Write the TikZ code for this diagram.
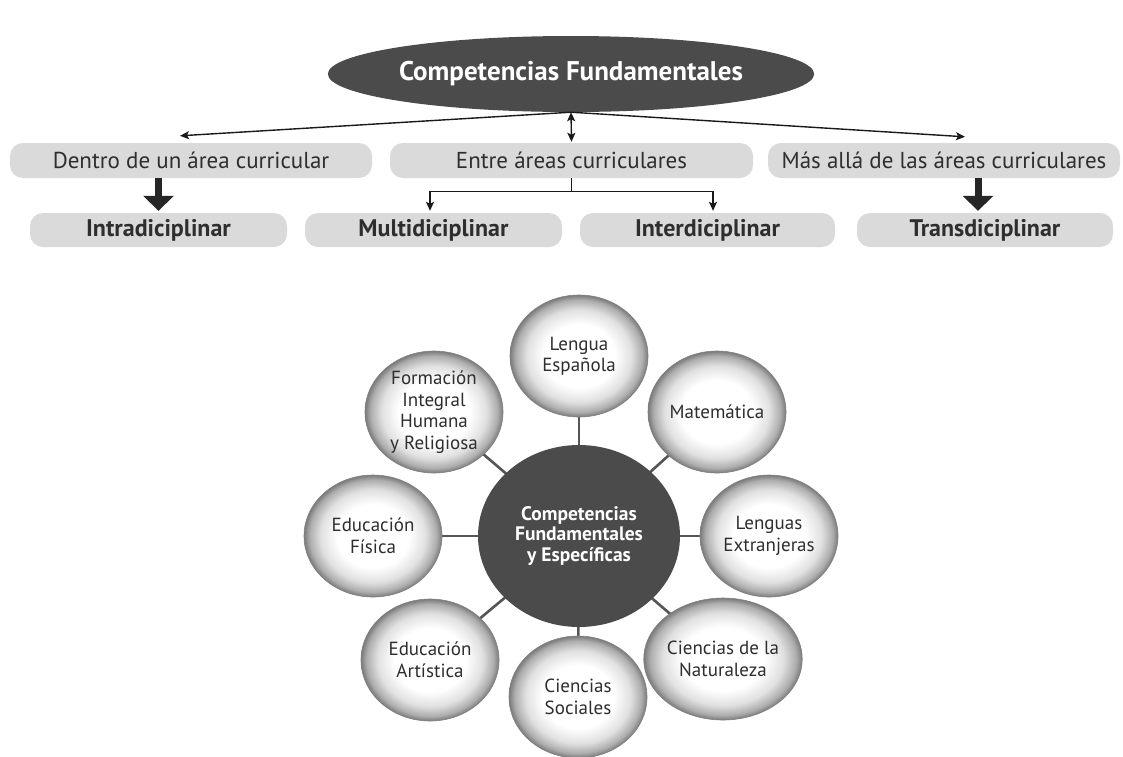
\documentclass[tikz,border=0pt]{standalone}
\usepackage{fontspec}
\setmainfont{PT Sans}
\usetikzlibrary{shapes.geometric,arrows.meta,backgrounds}

\definecolor{darkfill}{HTML}{4B4B4B}
\definecolor{boxgray}{HTML}{DADADA}
\definecolor{inktext}{HTML}{2E2E2E}
\definecolor{spokegray}{HTML}{555555}

% soft sphere look for the subject bubbles (rim of the shape at 25bp)
\pgfdeclareradialshading{sphere}{\pgfpoint{0bp}{0bp}}{%
  color(0bp)=(white); color(13bp)=(white); color(19bp)=(black!12);
  color(23bp)=(black!32); color(25bp)=(black!52); color(50bp)=(black!52)}

\tikzset{
  hub/.style={ellipse, fill=darkfill, text=white, font=\bfseries, align=center, inner sep=0pt},
  tagbox/.style={rectangle, rounded corners=13pt, fill=boxgray, text=inktext, inner sep=0pt, minimum height=35pt},
  levelbox/.style={tagbox, font=\fontsize{24}{28}\selectfont\bfseries, minimum height=34pt},
  areabox/.style={tagbox, font=\fontsize{23}{27}\selectfont},
  bubble/.style={ellipse, shading=sphere, draw=black!50, line width=0.6pt, text=inktext,
    minimum width=138pt, minimum height=122pt, inner sep=0pt, align=center,
    font=\fontsize{19}{21.5}\selectfont},
  link/.style={draw=black!90, line width=1.4pt, -{Stealth[length=9pt,width=8pt,inset=2pt]}},
  fatarrow/.style={draw=black!85, line width=7pt, -{Triangle[length=15pt,width=30pt]}},
  spoke/.style={draw=spokegray, line width=2.6pt}
}

\begin{document}
\begin{tikzpicture}[x=1pt,y=-1pt]
\useasboundingbox (0,0) rectangle (1123,756);
\begin{scope}[on background layer]
  \fill[white] (0,0) rectangle (1123,756);
\end{scope}

% ---------- upper scheme ----------
\node[hub, minimum width=448pt, minimum height=76pt, font=\fontsize{27}{32}\selectfont\bfseries]
  (top) at (571,74) {Competencias Fundamentales};

\node[areabox, minimum width=362pt] (dentro) at (191,160.5) {Dentro de un área curricular};
\node[areabox, minimum width=363pt] (entre)  at (571.5,160.5) {Entre áreas curriculares};
\node[areabox, minimum width=352pt] (mas)    at (944,160.5) {Más allá de las áreas curriculares};

\node[levelbox, minimum width=257pt] (intra) at (158.5,230) {Intradiciplinar};
\node[levelbox, minimum width=257pt] (multi) at (433.5,230) {Multidiciplinar};
\node[levelbox, minimum width=255pt] (inter) at (707.5,230) {Interdiciplinar};
\node[levelbox, minimum width=256pt] (trans) at (985,230) {Transdiciplinar};

\draw[link] (top.south) -- ([xshift=-11pt,yshift=7pt]dentro.north);
\draw[link] (top.south) -- ([xshift=21pt,yshift=6pt]mas.north);
\draw[link, {Stealth[length=9pt,width=8pt,inset=2pt]}-{Stealth[length=9pt,width=8pt,inset=2pt]}]
  (top.south) -- ([yshift=1pt]entre.north);

\draw[link, -] (entre.south) -- ++(0,13) coordinate (fork);
\draw[link, shorten >=2pt] (fork) -| ([xshift=-3.5pt]multi.north);
\draw[link, shorten >=2pt] (fork) -| ([xshift=5.5pt]inter.north);

\draw[fatarrow] (intra.north |- dentro.south) -- ([yshift=2pt]intra.north);
\draw[fatarrow] ([xshift=-7pt]trans.north |- mas.south) -- ([xshift=-7pt,yshift=2pt]trans.north);

% ---------- lower scheme ----------
\node[hub, minimum width=202pt, minimum height=182pt, font=\fontsize{19.5}{20.5}\selectfont\bfseries]
  (core) at (579,536) {Competencias\\Fundamentales\\y Específicas};

\node[bubble] (lengua) at (579,356) {Lengua\\Española};
\node[bubble] (mate)   at (717,412) {Matemática};
\node[bubble] (extr)   at (769,536) {Lenguas\\Extranjeras};
\node[bubble] (natu)   at (723,659) {Ciencias de la\\Naturaleza};
\node[bubble] (soci)   at (578,697) {Ciencias\\Sociales};
\node[bubble] (arti)   at (430,660) {Educación\\Artística};
\node[bubble] (fisi)   at (373,536) {Educación\\Física};
\node[bubble] (form)   at (434,412) {Formación\\Integral\\Humana\\y Religiosa};

\begin{scope}[on background layer]
  \foreach \s in {lengua,mate,extr,natu,soci,arti,fisi,form}
    \draw[spoke] (core.center) -- (\s.center);
\end{scope}
\end{tikzpicture}
\end{document}
